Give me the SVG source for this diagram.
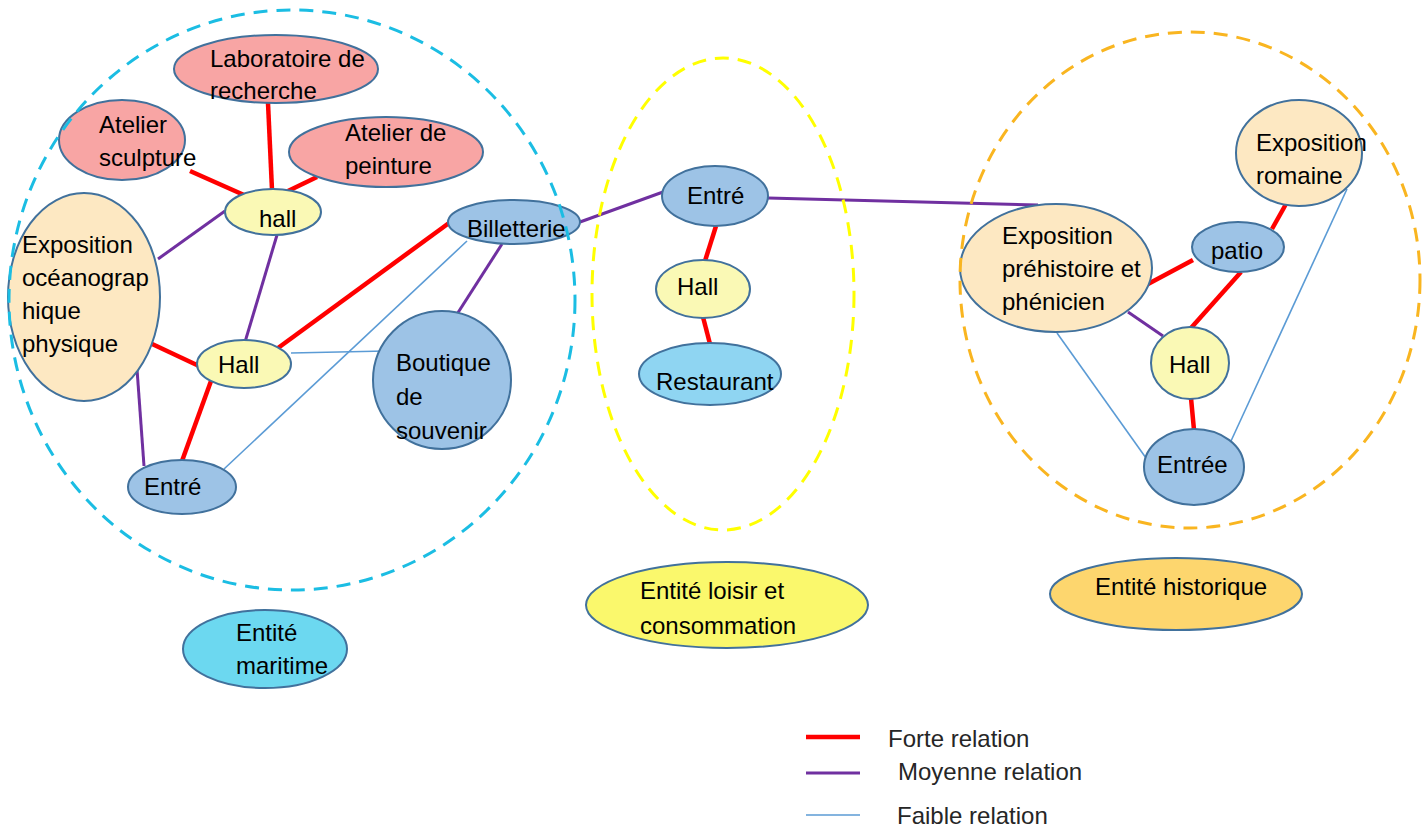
<svg xmlns="http://www.w3.org/2000/svg" width="1426" height="832" viewBox="0 0 1426 832">
<style>
.n{stroke:#41719C;stroke-width:2}
.pink{fill:#F8A5A4}
.hy{fill:#FAF9B5}
.beige{fill:#FDE8C2}
.blue{fill:#9DC3E6}
text{font-family:"Liberation Sans",Arial,sans-serif;font-size:24px;fill:#000}
.lg{font-size:24px;fill:#262626}
.r{stroke:#FF0000;stroke-width:4.5;fill:none}
.p{stroke:#7030A0;stroke-width:3;fill:none}
.b{stroke:#5B9BD5;stroke-width:1.6;fill:none}
.dash{fill:none;stroke-width:3;stroke-dasharray:14 9}
</style>
<rect width="1426" height="832" fill="#fff"/>
<g id="connectors">
<line class="r" x1="268" y1="103" x2="272" y2="190"/>
<line class="r" x1="190" y1="171" x2="244" y2="195"/>
<line class="r" x1="317" y1="177" x2="288" y2="191"/>
<line class="r" x1="150" y1="343" x2="199" y2="366"/>
<line class="r" x1="278" y1="348" x2="449" y2="223"/>
<line class="r" x1="211" y1="381" x2="182" y2="461"/>
<line class="r" x1="716" y1="226" x2="705" y2="261"/>
<line class="r" x1="703" y1="317" x2="710" y2="344"/>
<line class="r" x1="1148" y1="284" x2="1193" y2="260"/>
<line class="r" x1="1272" y1="229" x2="1286" y2="204"/>
<line class="r" x1="1241" y1="272" x2="1191" y2="328"/>
<line class="r" x1="1191" y1="398" x2="1194" y2="430"/>
<line class="p" x1="225" y1="211" x2="158" y2="259"/>
<line class="p" x1="277" y1="235" x2="245" y2="342"/>
<line class="p" x1="137" y1="369" x2="144" y2="466"/>
<line class="p" x1="502" y1="244" x2="443" y2="336"/>
<line class="p" x1="580" y1="222" x2="663" y2="192"/>
<line class="p" x1="768" y1="198" x2="1038" y2="205"/>
<line class="p" x1="1128" y1="312" x2="1163" y2="336"/>
<line class="b" x1="291" y1="353" x2="386" y2="351"/>
<line class="b" x1="467" y1="241" x2="224" y2="469"/>
<line class="b" x1="1057" y1="333" x2="1146" y2="458"/>
<line class="b" x1="1231" y1="441" x2="1347" y2="189"/>
</g>
<g id="labo"><ellipse class="n pink" cx="276" cy="69" rx="102" ry="34"/><text x="210" y="67">Laboratoire de</text><text x="210" y="99">recherche</text></g>
<g id="sculpture"><ellipse class="n pink" cx="122" cy="140" rx="63" ry="40"/><text x="99" y="133">Atelier</text><text x="99" y="166">sculpture</text></g>
<g id="peinture"><ellipse class="n pink" cx="386" cy="152" rx="97" ry="35"/><text x="345" y="141">Atelier de</text><text x="345" y="174">peinture</text></g>
<g id="hall1"><ellipse class="n hy" cx="273" cy="212" rx="48" ry="23"/><text x="259" y="227">hall</text></g>
<g id="oceano"><ellipse class="n beige" cx="84" cy="297" rx="76" ry="104"/><text x="22" y="253">Exposition</text><text x="22" y="286">océanograp</text><text x="22" y="319">hique</text><text x="22" y="352">physique</text></g>
<g id="hall2"><ellipse class="n hy" cx="244" cy="364" rx="47" ry="24"/><text x="218" y="373">Hall</text></g>
<g id="billetterie"><ellipse class="n blue" cx="514" cy="222" rx="66" ry="22"/><text x="467" y="237">Billetterie</text></g>
<g id="boutique"><ellipse class="n blue" cx="442" cy="380" rx="69" ry="69"/><text x="396" y="371">Boutique</text><text x="396" y="405">de</text><text x="396" y="439">souvenir</text></g>
<g id="entre1"><ellipse class="n blue" cx="182" cy="487" rx="54" ry="27"/><text x="144" y="495">Entré</text></g>
<g id="entre2"><ellipse class="n blue" cx="715" cy="196" rx="53" ry="30"/><text x="687" y="204">Entré</text></g>
<g id="hall3"><ellipse class="n hy" cx="703" cy="289" rx="47" ry="29"/><text x="677" y="295">Hall</text></g>
<g id="restaurant"><ellipse class="n" fill="#8FD5F2" cx="710" cy="374" rx="71" ry="31"/><text x="656" y="390">Restaurant</text></g>
<g id="romaine"><ellipse class="n beige" cx="1299" cy="153" rx="63" ry="53"/><text x="1256" y="151">Exposition</text><text x="1256" y="184">romaine</text></g>
<g id="prehistoire"><ellipse class="n beige" cx="1056" cy="268" rx="96" ry="64"/><text x="1002" y="244">Exposition</text><text x="1002" y="277">préhistoire et</text><text x="1002" y="310">phénicien</text></g>
<g id="patio"><ellipse class="n blue" cx="1238" cy="247" rx="46" ry="25"/><text x="1211" y="259">patio</text></g>
<g id="hall4"><ellipse class="n hy" cx="1190" cy="363" rx="39" ry="36"/><text x="1169" y="373">Hall</text></g>
<g id="entree"><ellipse class="n blue" cx="1194" cy="467" rx="50" ry="38"/><text x="1157" y="473">Entrée</text></g>
<g id="zone-maritime"><ellipse class="dash" stroke="#1BBDE3" cx="292" cy="300" rx="283" ry="290"/></g>
<g id="zone-loisir"><ellipse class="dash" stroke="#FFFF00" cx="723" cy="294" rx="131" ry="236"/></g>
<g id="zone-historique"><ellipse class="dash" stroke="#F9B520" cx="1190" cy="280" rx="230" ry="248"/></g>
<g id="entite-maritime"><ellipse class="n" fill="#6CD8F0" cx="265" cy="649" rx="82" ry="39"/><text x="236" y="641">Entité</text><text x="236" y="674">maritime</text></g>
<g id="entite-loisir"><ellipse class="n" fill="#FAF86C" cx="727" cy="605" rx="141" ry="43"/><text x="640" y="599">Entité loisir et</text><text x="640" y="634">consommation</text></g>
<g id="entite-historique"><ellipse class="n" fill="#FDD66E" cx="1176" cy="594" rx="126" ry="36"/><text x="1095" y="595">Entité historique</text></g>
<g id="legend">
<line class="r" x1="806" y1="737" x2="860" y2="737"/>
<line class="p" x1="806" y1="773" x2="860" y2="773"/>
<line class="b" x1="806" y1="815" x2="860" y2="815"/>
<text class="lg" x="888" y="747">Forte relation</text>
<text class="lg" x="898" y="780">Moyenne relation</text>
<text class="lg" x="897" y="824">Faible relation</text>
</g>
</svg>
